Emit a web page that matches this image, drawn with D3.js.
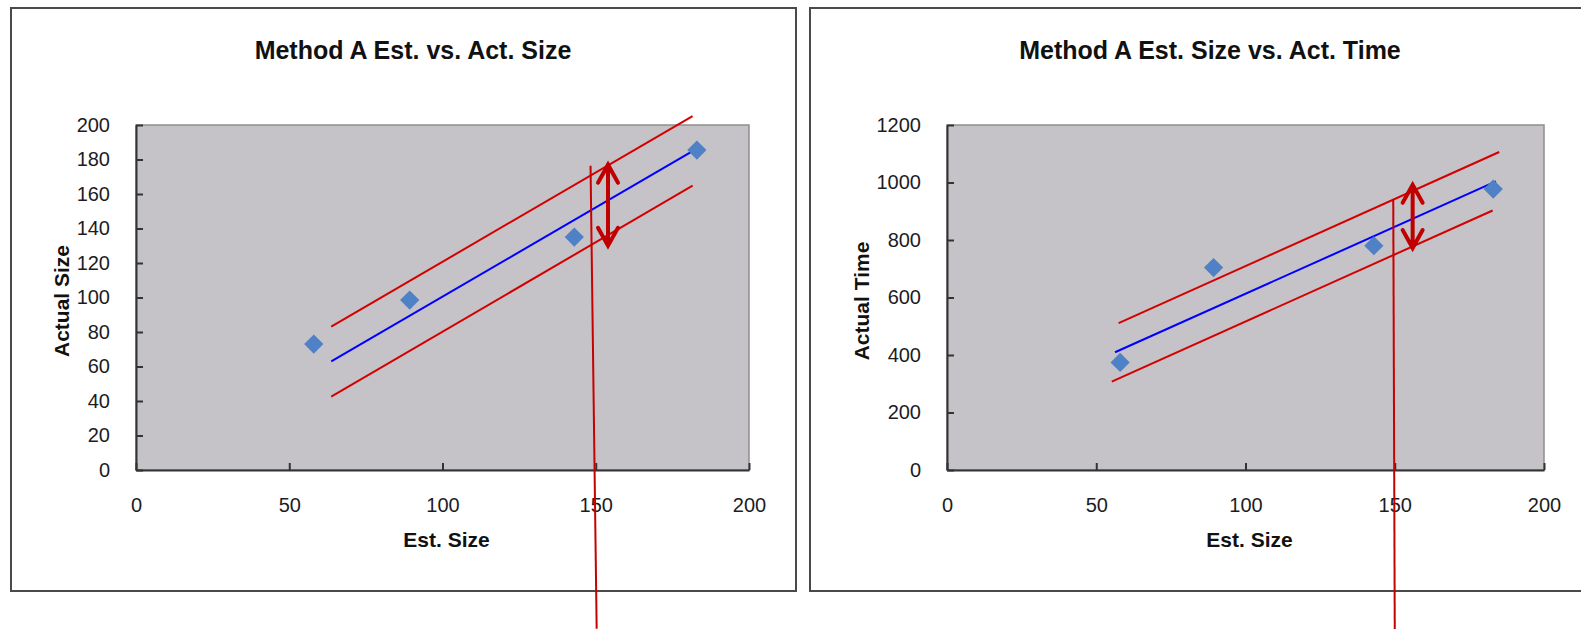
<!DOCTYPE html>
<html>
<head>
<meta charset="utf-8">
<script src="https://cdn.jsdelivr.net/npm/d3@7"></script>
<style>
  html, body { margin: 0; padding: 0; background: #fff; }
  svg { display: block; }
  text { font-family: "Liberation Sans", Arial, sans-serif; }
</style>
</head>
<body>
<div id="chart"></div>
<script>
// ── Datos ────────────────────────────────────────────
const estSize   = [58, 89.3, 143, 183];
const actSize   = [73, 98.5, 135, 185.5];
const actTime   = [374, 704, 780, 977];
const xTicks    = [0, 50, 100, 150, 200];
const sizeTicks = [0, 20, 40, 60, 80, 100, 120, 140, 160, 180, 200];
const timeTicks = [0, 200, 400, 600, 800, 1000, 1200];

// regresión + intervalo, extremos [x, y] en unidades de datos
const sizeFit   = [[63.7, 63.0], [181.3, 184.5]];
const sizeUpper = [[63.7, 83.1], [181.6, 205.2]];
const sizeLower = [[63.7, 42.5], [181.6, 164.8]];
const timeFit   = [[56.3, 409.6], [183.9, 1003.7]];
const timeUpper = [[57.5, 510.7], [185.0, 1106]];
const timeLower = [[55.2, 307.5], [182.8, 902.7]];

// anotaciones: flecha doble y línea indicadora
const sizeArrow   = [[154, 177], [154, 130]];
const sizePointer = [[148.3, 176.4], [150.3, -92]];
const timeArrow   = [[156, 992], [156, 772]];
const timePointer = [[149.5, 940], [150.0, -553]];

const W = 1581, H = 629;

const svg = d3.select('#chart').append('svg')
    .attr('width', W).attr('height', H)
    .style('background', '#fff');

function drawPanel(p) {
    const g = svg.append('g');

    // ── Marco ────────────────────────────────────────
    g.append('rect')
        .attr('x', p.frame.x).attr('y', p.frame.y)
        .attr('width', p.frame.w).attr('height', p.frame.h)
        .attr('fill', '#fff')
        .attr('stroke', '#4a4a4a')
        .attr('stroke-width', 2);

    const x = d3.scaleLinear().domain([0, 200]).range([p.plot.x, p.plot.x + p.plot.w]);
    const y = d3.scaleLinear().domain([0, p.yMax]).range([p.plot.y + p.plot.h, p.plot.y]);

    // ── Área de trazado ──────────────────────────────
    g.append('rect')
        .attr('x', p.plot.x).attr('y', p.plot.y)
        .attr('width', p.plot.w).attr('height', p.plot.h)
        .attr('fill', '#c5c3c7')
        .attr('stroke', '#8e8e8e')
        .attr('stroke-width', 1.5);

    // ── Ejes ─────────────────────────────────────────
    const yAxis = g.append('g')
        .attr('transform', `translate(${p.plot.x},0)`)
        .call(d3.axisLeft(y).tickValues(p.yTicks).tickFormat(d3.format('d'))
            .tickSizeInner(-7).tickSizeOuter(0).tickPadding(26));
    const xAxis = g.append('g')
        .attr('transform', `translate(0,${p.plot.y + p.plot.h})`)
        .call(d3.axisBottom(x).tickValues(xTicks).tickFormat(d3.format('d'))
            .tickSizeInner(-7).tickSizeOuter(0).tickPadding(28));

    [xAxis, yAxis].forEach(a => {
        a.select('.domain').attr('stroke', '#333').attr('stroke-width', 2);
        a.selectAll('.tick line').attr('stroke', '#333').attr('stroke-width', 2);
        a.selectAll('.tick text')
            .attr('fill', '#1c1c24')
            .style('font-size', '20px')
            .style('font-family', '"Liberation Sans", Arial, sans-serif');
    });

    // ── Títulos ──────────────────────────────────────
    g.append('text')
        .attr('x', p.titleX).attr('y', 59)
        .attr('text-anchor', 'middle')
        .style('font-size', '25px').style('font-weight', 'bold')
        .attr('fill', '#111')
        .text(p.title);

    g.append('text')
        .attr('x', p.plot.x + p.plot.w / 2 + 4).attr('y', 547)
        .attr('text-anchor', 'middle')
        .style('font-size', '21px').style('font-weight', 'bold')
        .attr('fill', '#111')
        .text('Est. Size');

    g.append('text')
        .attr('transform', `translate(${p.yTitleX},301) rotate(-90)`)
        .attr('text-anchor', 'middle')
        .style('font-size', '21px').style('font-weight', 'bold')
        .attr('fill', '#111')
        .text(p.yTitle);

    // ── Líneas de regresión e intervalo ──────────────
    const line = d3.line().x(d => x(d[0])).y(d => y(d[1]));
    [[p.upper, '#d40000'], [p.lower, '#d40000'], [p.fit, '#0000ff']].forEach(([pts, c]) => {
        g.append('path')
            .attr('d', line(pts))
            .attr('fill', 'none')
            .attr('stroke', c)
            .attr('stroke-width', 2);
    });

    // ── Puntos (rombos) ──────────────────────────────
    g.append('g').selectAll('path')
        .data(estSize.map((e, i) => [e, p.yVals[i]]))
        .join('path')
        .attr('d', d3.symbol(d3.symbolSquare, 185))
        .attr('transform', d => `translate(${x(d[0])},${y(d[1])}) rotate(45)`)
        .attr('fill', '#4f81c6');

    // ── Línea indicadora ─────────────────────────────
    g.append('path')
        .attr('d', line(p.pointer))
        .attr('fill', 'none')
        .attr('stroke', '#c80000')
        .attr('stroke-width', 2);

    // ── Flecha doble ─────────────────────────────────
    const ax = x(p.arrow[0][0]);
    const top = y(p.arrow[0][1]), bot = y(p.arrow[1][1]);
    const hw = 10, hl = 18;
    g.append('path')
        .attr('d', `M${ax},${top}L${ax},${bot}` +
                   `M${ax - hw},${top + hl}L${ax},${top}L${ax + hw},${top + hl}` +
                   `M${ax - hw},${bot - hl}L${ax},${bot}L${ax + hw},${bot - hl}`)
        .attr('fill', 'none')
        .attr('stroke', '#c00000')
        .attr('stroke-width', 4)
        .attr('stroke-linecap', 'round')
        .attr('stroke-linejoin', 'miter');
}

drawPanel({
    frame: { x: 11, y: 8, w: 785, h: 583 },
    plot:  { x: 136, y: 125, w: 613, h: 345 },
    yMax: 200, yTicks: sizeTicks, yVals: actSize,
    title: 'Method A Est. vs. Act. Size', titleX: 413,
    yTitle: 'Actual Size', yTitleX: 69,
    fit: sizeFit, upper: sizeUpper, lower: sizeLower,
    arrow: sizeArrow, pointer: sizePointer
});

drawPanel({
    frame: { x: 810, y: 8, w: 785, h: 583 },
    plot:  { x: 947, y: 125, w: 597, h: 345 },
    yMax: 1200, yTicks: timeTicks, yVals: actTime,
    title: 'Method A Est. Size vs. Act. Time', titleX: 1210,
    yTitle: 'Actual Time', yTitleX: 869,
    fit: timeFit, upper: timeUpper, lower: timeLower,
    arrow: timeArrow, pointer: timePointer
});
</script>
</body>
</html>
